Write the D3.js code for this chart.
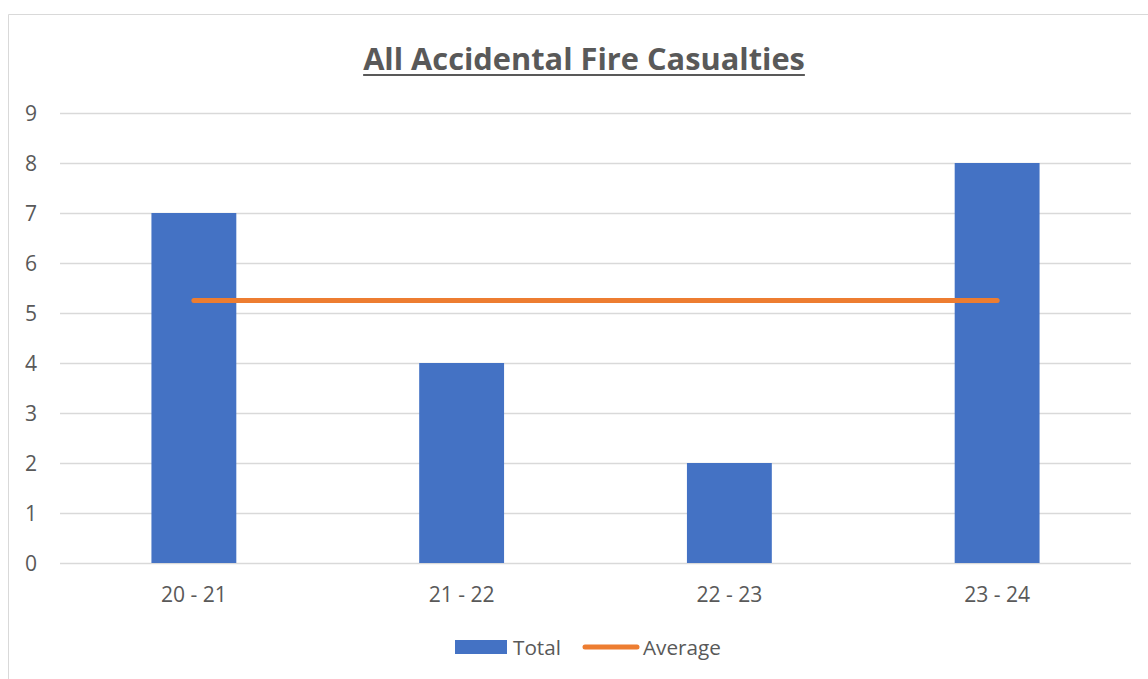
<!DOCTYPE html>
<html><head><meta charset="utf-8">
<script src="https://cdn.jsdelivr.net/npm/d3@7"></script>
<style>body{margin:0;background:#fff}svg{display:block}</style>
</head><body>
<svg id="c" width="1148" height="679"></svg>
<script>
const categories = ["20 - 21","21 - 22","22 - 23","23 - 24"];
const totals = [7,4,2,8];
const averageValue = [5.25,5.25,5.25,5.25];
const yTicks = [0,1,2,3,4,5,6,7,8,9];
const titleText = "All Accidental Fire Casualties";

(function(){
const svg = d3.select("#c");
const font = "'Open Sans', 'Noto Sans', sans-serif";
const gray = "#595959";
const pLeft = 60, pRight = 1131, pTop = 113, pBottom = 563;

function fit(sel, base, target){
  sel.attr("font-size", base);
  const w = sel.node().getComputedTextLength();
  const s = base*target/w;
  sel.attr("font-size", s);
  return s;
}

// outer border
svg.append("path").attr("d","M8.5,679 V14.5 H1148").attr("fill","none").attr("stroke","#d9d9d9").attr("stroke-width",1);

const x = d3.scaleBand().domain(categories).range([pLeft,pRight]).paddingInner(0.683).paddingOuter(0.3415);
const y = d3.scaleLinear().domain([0,9]).range([pBottom,pTop]);

// gridlines
svg.append("g").selectAll("line").data(yTicks).join("line")
  .attr("x1",pLeft).attr("x2",pRight)
  .attr("y1",d=>Math.round(y(d))+0.5).attr("y2",d=>Math.round(y(d))+0.5)
  .attr("stroke","#d9d9d9").attr("stroke-width",1.3);

// x label size fitted
const probe = svg.append("text").attr("font-family",font).text(categories[0]);
const xfs = fit(probe, 18, 66);
probe.remove();

// y labels
const yAxis = d3.axisLeft(y).tickValues(yTicks).tickSize(0).tickPadding(0);
const ya = svg.append("g").attr("transform","translate(37,0)").call(yAxis);
ya.select(".domain").remove();
ya.attr("font-family",null).attr("font-size",null);
ya.selectAll("text").attr("font-family",font).attr("font-size",xfs).attr("fill",gray).attr("dy","0.36em");

// bars
svg.append("g").selectAll("rect").data(totals).join("rect")
  .attr("x",(d,i)=>x(categories[i])).attr("width",x.bandwidth())
  .attr("y",d=>y(d)).attr("height",d=>y(0)-y(d)).attr("fill","#4472C4");

// x labels
const xAxis = d3.axisBottom(x).tickSize(0).tickPadding(0);
const xa = svg.append("g").attr("transform","translate(0,602)").call(xAxis);
xa.select(".domain").remove();
xa.attr("font-family",null).attr("font-size",null);
xa.selectAll("text").attr("font-family",font).attr("font-size",xfs).attr("fill",gray).attr("dy",0);

// average line
const line = d3.line().x((d,i)=>x(categories[i])+x.bandwidth()/2).y(d=>y(d));
svg.append("path").datum(averageValue).attr("d",line).attr("fill","none")
  .attr("stroke","#ED7D31").attr("stroke-width",5).attr("stroke-linecap","round");

// title
const t = svg.append("text").attr("x",584).attr("y",70).attr("text-anchor","middle")
  .attr("font-family",font).attr("font-weight","bold").attr("fill",gray)
  .text(titleText);
fit(t, 28, 442);
const w = t.node().getComputedTextLength();
svg.append("rect").attr("x",584-w/2).attr("y",74).attr("width",w).attr("height",2).attr("fill",gray);

// legend
svg.append("rect").attr("x",455).attr("y",640).attr("width",52).attr("height",14).attr("fill","#4472C4");
const lt = svg.append("text").attr("x",513).attr("y",655).attr("font-family",font).attr("fill",gray).text("Total");
const lfs = fit(lt, 20, 48);
svg.append("line").attr("x1",585).attr("x2",637).attr("y1",647).attr("y2",647)
  .attr("stroke","#ED7D31").attr("stroke-width",5).attr("stroke-linecap","round");
svg.append("text").attr("x",643).attr("y",655).attr("font-family",font).attr("font-size",lfs).attr("fill",gray).text("Average");
})();
</script>
</body></html>
